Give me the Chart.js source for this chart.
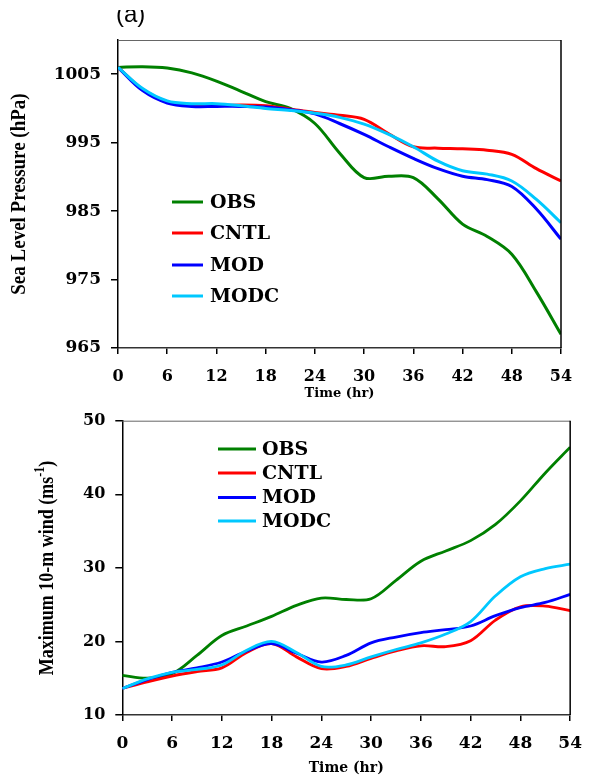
<!DOCTYPE html>
<html>
<head>
<meta charset="utf-8">
<script src="https://cdn.jsdelivr.net/npm/chart.js@4.4.1/dist/chart.umd.min.js"></script>
<style>
  body { margin: 0; background: #fff; }
  canvas { position: absolute; left: 0; }
  #slp { top: 0; }
  #wind { top: 400px; }
</style>
</head>
<body>
<canvas id="slp" width="594" height="400"></canvas>
<canvas id="wind" width="594" height="379"></canvas>
<script>
// forecast hour of each sample
const hours = [0, 3, 6, 9, 12, 15, 18, 21, 24, 27, 30, 33, 36, 39, 42, 45, 48, 51, 54];
const hourTicks = [0, 6, 12, 18, 24, 30, 36, 42, 48, 54];

const seriesNames = ["OBS", "CNTL", "MOD", "MODC"];
const seriesColors = ["#008000", "#ff0000", "#0000ff", "#00c8ff"];

// (a) sea level pressure, hPa
const slpTicks = [965, 975, 985, 995, 1005];
const slpObs  = [1006.0, 1006.1, 1005.9, 1005.2, 1004.0, 1002.5, 1001.0, 1000.0, 997.8, 993.5, 989.9, 990.1, 989.9, 986.8, 983.1, 981.3, 978.7, 973.2, 967.0];
const slpCntl = [1006.0, 1002.8, 1001.0, 1000.4, 1000.4, 1000.5, 1000.4, 999.9, 999.4, 999.0, 998.4, 996.3, 994.4, 994.2, 994.1, 993.9, 993.3, 991.2, 989.4];
const slpMod  = [1006.0, 1002.6, 1000.8, 1000.3, 1000.3, 1000.3, 1000.2, 999.8, 999.2, 997.8, 996.2, 994.4, 992.7, 991.2, 990.1, 989.6, 988.6, 985.3, 980.9];
const slpModc = [1006.0, 1002.9, 1001.1, 1000.7, 1000.7, 1000.4, 1000.0, 999.7, 999.3, 998.7, 997.7, 996.2, 994.4, 992.3, 990.9, 990.4, 989.4, 986.7, 983.3];

// (b) maximum 10-m wind, m/s
const windTicks = [10, 20, 30, 40, 50];
const windObs  = [15.4, 15.0, 15.6, 18.1, 20.8, 22.1, 23.4, 24.9, 25.9, 25.7, 25.8, 28.3, 30.9, 32.3, 33.7, 35.9, 39.1, 42.9, 46.4];
const windCntl = [13.6, 14.5, 15.3, 15.9, 16.4, 18.5, 19.7, 17.9, 16.3, 16.6, 17.7, 18.7, 19.4, 19.3, 20.1, 22.9, 24.7, 24.8, 24.2];
const windMod  = [13.6, 14.8, 15.8, 16.4, 17.2, 18.7, 19.7, 18.4, 17.2, 18.1, 19.8, 20.6, 21.2, 21.6, 22.1, 23.5, 24.6, 25.3, 26.4];
const windModc = [13.6, 14.9, 15.8, 16.2, 16.8, 18.8, 20.0, 18.5, 16.6, 16.8, 17.9, 18.9, 19.8, 21.0, 22.7, 26.2, 28.8, 29.9, 30.5];

const tickFont = { family: "DejaVu Serif", weight: "bold", size: 16 };

// frame, inline legend, rotated y title and panel tag
const decor = {
  id: "decor",
  afterDraw(chart, args, opts) {
    const ctx = chart.ctx;
    const a = chart.chartArea;
    ctx.save();

    ctx.strokeStyle = "#666";
    ctx.lineWidth = 1;
    ctx.beginPath();
    ctx.moveTo(a.left, a.top + 0.5);
    ctx.lineTo(a.right, a.top + 0.5);
    ctx.stroke();
    ctx.strokeStyle = "#000";
    ctx.lineWidth = 1.5;
    ctx.beginPath();
    ctx.moveTo(a.right, a.top);
    ctx.lineTo(a.right, a.bottom);
    ctx.stroke();

    const lg = opts.legend;
    ctx.font = "bold 19px 'DejaVu Serif'";
    ctx.textBaseline = "middle";
    ctx.textAlign = "left";
    chart.data.datasets.forEach((ds, i) => {
      const y = lg.rows[i];
      ctx.strokeStyle = ds.borderColor;
      ctx.lineWidth = 3;
      ctx.beginPath();
      ctx.moveTo(lg.x1, y);
      ctx.lineTo(lg.x2, y);
      ctx.stroke();
      ctx.fillStyle = "#000";
      ctx.fillText(ds.label, lg.textX, y + 1);
    });

    const yt = opts.yTitle;
    ctx.save();
    ctx.translate(yt.x, yt.y);
    ctx.rotate(-Math.PI / 2);
    ctx.scale(1, yt.stretch);
    ctx.fillStyle = "#000";
    ctx.textBaseline = "middle";
    let total = 0;
    yt.parts.forEach(p => {
      ctx.font = "bold " + p.size + "px 'Liberation Serif'";
      total += ctx.measureText(p.text).width;
    });
    let x = -total / 2;
    yt.parts.forEach(p => {
      ctx.font = "bold " + p.size + "px 'Liberation Serif'";
      ctx.fillText(p.text, x, -(p.rise || 0));
      x += ctx.measureText(p.text).width;
    });
    ctx.restore();

    if (opts.tag) {
      const t = opts.tag;
      ctx.save();
      ctx.beginPath();
      ctx.rect(0, t.clipTop, 300, 40);
      ctx.clip();
      ctx.fillStyle = "#000";
      ctx.font = "24px 'Liberation Sans'";
      ctx.textBaseline = "alphabetic";
      ctx.fillText(t.text, t.x, t.y);
      ctx.restore();
    }

    ctx.restore();
  }
};

function makeDatasets(values, width) {
  return values.map((vals, i) => ({
    label: seriesNames[i],
    data: hours.map((h, k) => ({ x: h, y: vals[k] })),
    borderColor: seriesColors[i],
    backgroundColor: seriesColors[i],
    borderWidth: width,
    pointRadius: 0,
    tension: 0.35,
    order: seriesNames.length - i
  }));
}

function makeChart(id, cfg) {
  return new Chart(document.getElementById(id), {
    type: "line",
    data: { datasets: makeDatasets(cfg.series, cfg.lineWidth) },
    plugins: [decor],
    options: {
      responsive: false,
      animation: false,
      layout: { padding: cfg.padding },
      plugins: {
        legend: { display: false },
        tooltip: { enabled: false },
        decor: cfg.decor
      },
      scales: {
        x: {
          type: "linear",
          min: 0,
          max: 54,
          afterBuildTicks: s => { s.ticks = hourTicks.map(v => ({ value: v })); },
          afterFit: s => { s.height = cfg.xHeight; },
          grid: { drawOnChartArea: false, tickLength: 6, color: "#000", lineWidth: 1.5 },
          border: { color: "#333", width: 1.5 },
          ticks: { font: cfg.xFont, color: "#000", padding: cfg.xPad, maxRotation: 0, autoSkip: false, callback: v => String(v) },
          title: {
            display: true,
            text: "Time (hr)",
            color: "#000",
            font: { family: "DejaVu Serif", weight: "bold", size: cfg.xTitleSize, lineHeight: 1 },
            padding: { top: 0, bottom: cfg.xTitlePad }
          }
        },
        y: {
          min: cfg.yMin,
          max: cfg.yMax,
          afterBuildTicks: s => { s.ticks = cfg.yTicks.map(v => ({ value: v })); },
          afterFit: s => { s.width = cfg.yWidth; },
          grid: { drawOnChartArea: false, tickLength: 7, color: "#000", lineWidth: 1.5 },
          border: { color: "#000", width: 1.5 },
          ticks: { font: cfg.yFont, color: "#000", padding: 10, callback: v => String(v) }
        }
      }
    }
  });
}

makeChart("slp", {
  series: [slpObs, slpCntl, slpMod, slpModc],
  lineWidth: 3,
  padding: { left: 0, top: 40, right: 33, bottom: 0 },
  xHeight: 52,
  yWidth: 118,
  yMin: 965,
  yMax: 1010,
  yTicks: slpTicks,
  xFont: tickFont,
  yFont: { family: "DejaVu Serif", weight: "bold", size: 17 },
  xPad: 13,
  xTitleSize: 13,
  xTitlePad: 0,
  decor: {
    legend: { x1: 172, x2: 203, textX: 210, rows: [202, 233, 265, 296] },
    yTitle: { x: 19, y: 194, stretch: 1.15, parts: [{ text: "Sea Level Pressure (hPa)", size: 19 }] },
    tag: { text: "(a)", x: 116, y: 22, clipTop: 10 }
  }
});

makeChart("wind", {
  series: [windObs, windCntl, windMod, windModc],
  lineWidth: 2.8,
  padding: { left: 0, top: 20.7, right: 12.3, bottom: 0 },
  xHeight: 64,
  yWidth: 122.3,
  yMin: 10,
  yMax: 50,
  yTicks: windTicks,
  xFont: { family: "DejaVu Serif", weight: "bold", size: 17 },
  yFont: tickFont,
  xPad: 12,
  xTitleSize: 14,
  xTitlePad: 4,
  decor: {
    legend: { x1: 218, x2: 256, textX: 262, rows: [49, 73, 97.5, 121] },
    yTitle: {
      x: 48, y: 168, stretch: 1.15,
      parts: [
        { text: "Maximum 10-m wind (ms", size: 18 },
        { text: "-1", size: 12, rise: 7 },
        { text: ")", size: 18 }
      ]
    }
  }
});
</script>
</body>
</html>
